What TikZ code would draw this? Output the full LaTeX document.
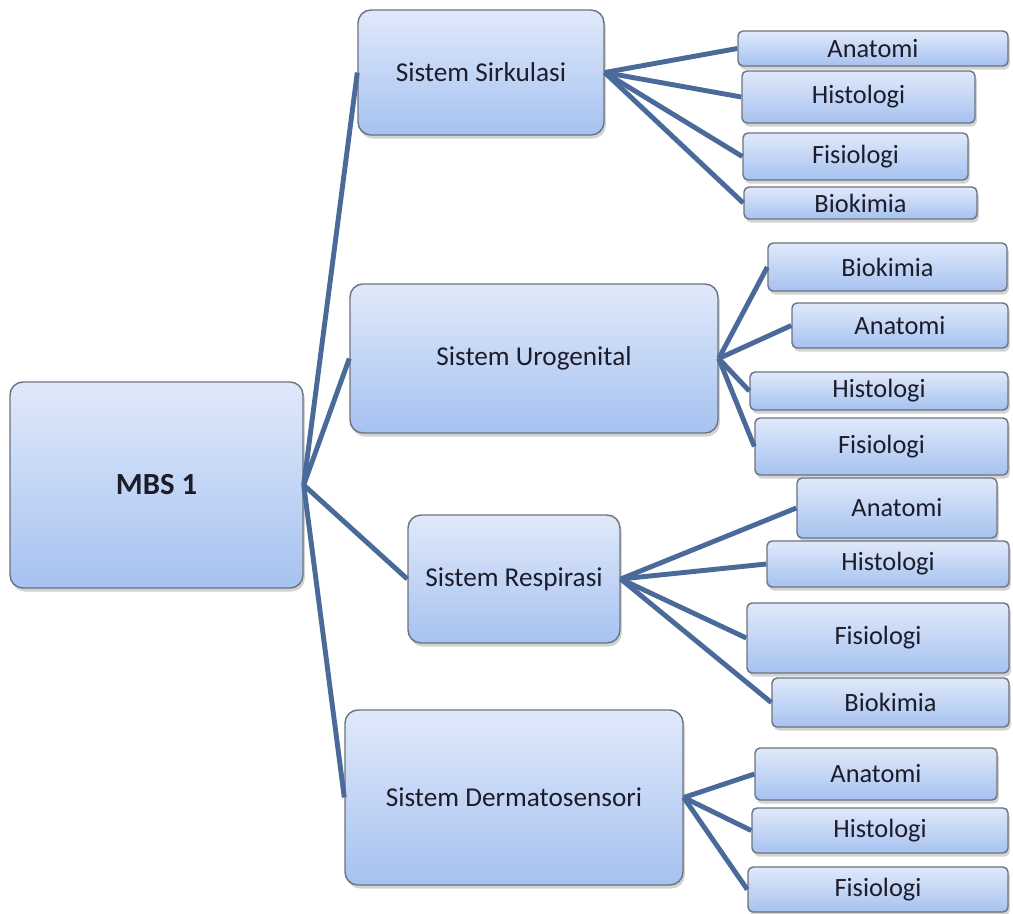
\documentclass[tikz,border=0pt]{standalone}
\usepackage{fontspec}
\setmainfont{Carlito}
\usetikzlibrary{shadows}

\definecolor{boxtop}{HTML}{E0E9FA}
\definecolor{boxbot}{HTML}{A6C2F0}
\definecolor{boxline}{HTML}{6B7380}
\definecolor{linkblue}{HTML}{4A6B9A}
\definecolor{ink}{HTML}{1C1C2A}

\begin{document}
\begin{tikzpicture}[x=0.02cm, y=-0.02cm,
    box/.style={rectangle, draw=boxline, line width=0.8pt, top color=boxtop, bottom color=boxbot,
        rounded corners=0.26cm, text=ink, font=\fontsize{15.5}{18}\selectfont,
        inner sep=0pt, drop shadow={opacity=0.35, shadow xshift=1pt, shadow yshift=-2pt}},
    leaf/.style={box, rounded corners=0.1cm, font=\fontsize{15}{18}\selectfont},
    link/.style={linkblue, line width=2.8pt}]

    % Fix the page size to the reference
    \useasboundingbox (0,0) rectangle (1013,913);

    % Root and the four systems
    \node[box, minimum width=0.02cm*293, minimum height=0.02cm*206, font=\fontsize{17.5}{20}\selectfont\bfseries] (mbs) at (156.5,485) {MBS 1};
    \node[box, minimum width=0.02cm*246, minimum height=0.02cm*125] (sirk) at (481,72.5) {Sistem Sirkulasi};
    \node[box, minimum width=0.02cm*368, minimum height=0.02cm*149] (uro) at (534,358.5) {Sistem Urogenital};
    \node[box, minimum width=0.02cm*212, minimum height=0.02cm*128] (resp) at (514,579) {Sistem Respirasi};
    \node[box, minimum width=0.02cm*338, minimum height=0.02cm*175] (derm) at (514,797.5) {Sistem Dermatosensori};

    % Leaves of Sistem Sirkulasi
    \node[leaf, minimum width=0.02cm*270, minimum height=0.02cm*35] (sirkA) at (873,48.5) {Anatomi};
    \node[leaf, minimum width=0.02cm*233, minimum height=0.02cm*52] (sirkH) at (858.5,97) {Histologi};
    \node[leaf, minimum width=0.02cm*225, minimum height=0.02cm*47] (sirkF) at (855.5,156.5) {Fisiologi};
    \node[leaf, minimum width=0.02cm*233, minimum height=0.02cm*32] (sirkB) at (860.5,203) {Biokimia};

    % Leaves of Sistem Urogenital
    \node[leaf, minimum width=0.02cm*239, minimum height=0.02cm*48] (uroB) at (887.5,267) {Biokimia};
    \node[leaf, minimum width=0.02cm*216, minimum height=0.02cm*45] (uroA) at (900,325.5) {Anatomi};
    \node[leaf, minimum width=0.02cm*258, minimum height=0.02cm*38] (uroH) at (879,391) {Histologi};
    \node[leaf, minimum width=0.02cm*253, minimum height=0.02cm*57] (uroF) at (881.5,446.5) {Fisiologi};

    % Leaves of Sistem Respirasi
    \node[leaf, minimum width=0.02cm*200, minimum height=0.02cm*60] (respA) at (897,508) {Anatomi};
    \node[leaf, minimum width=0.02cm*242, minimum height=0.02cm*46] (respH) at (888,564) {Histologi};
    \node[leaf, minimum width=0.02cm*262, minimum height=0.02cm*70] (respF) at (878,638) {Fisiologi};
    \node[leaf, minimum width=0.02cm*237, minimum height=0.02cm*49] (respB) at (890.5,702.5) {Biokimia};

    % Leaves of Sistem Dermatosensori
    \node[leaf, minimum width=0.02cm*242, minimum height=0.02cm*52] (dermA) at (876,774) {Anatomi};
    \node[leaf, minimum width=0.02cm*256, minimum height=0.02cm*45] (dermH) at (880,830.5) {Histologi};
    \node[leaf, minimum width=0.02cm*260, minimum height=0.02cm*45] (dermF) at (878,889.5) {Fisiologi};

    % Connectors from the root
    \foreach \s in {sirk, uro, resp, derm}
        \draw[link] (mbs.east) -- (\s.west);

    % Connectors to the leaves
    \foreach \l in {A, H, F, B} {
        \draw[link] (sirk.east) -- (sirk\l.west);
        \draw[link] (uro.east) -- (uro\l.west);
        \draw[link] (resp.east) -- (resp\l.west);
    }
    \foreach \l in {A, H, F}
        \draw[link] (derm.east) -- (derm\l.west);
\end{tikzpicture}
\end{document}
